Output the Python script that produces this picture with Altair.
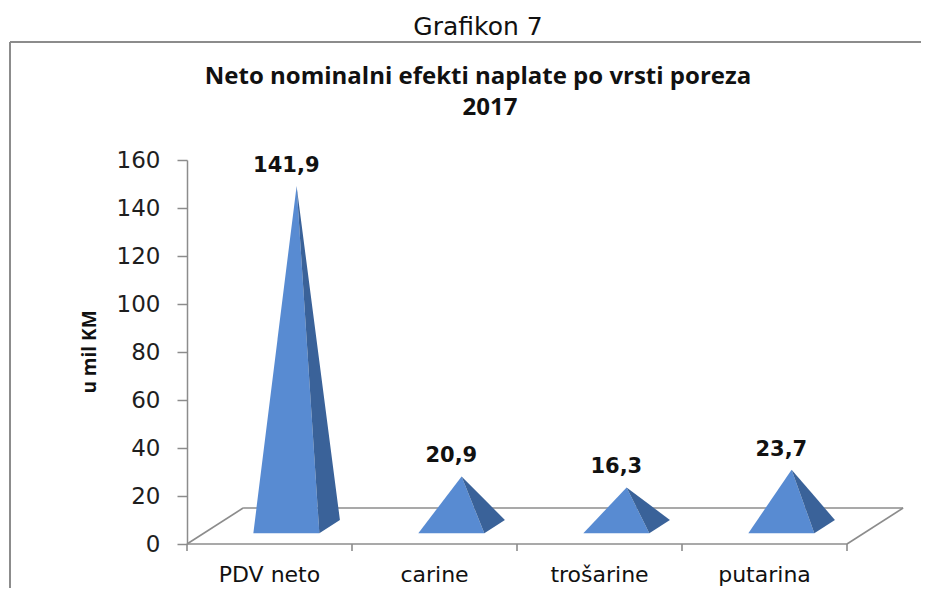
import altair as alt
import pandas as pd

# ---- data ----
categories = ["PDV neto", "carine", "trošarine", "putarina"]
values = [141.9, 20.9, 16.3, 23.7]
value_labels = ["141,9", "20,9", "16,3", "23,7"]
y_ticks = [0, 20, 40, 60, 80, 100, 120, 140, 160]

# ---- 3D-look geometry constants (in scale units) ----
HW = 0.20          # half width of pyramid base (category units)
DX, DY = 0.34, 15  # floor depth offset (x units, y units)
F_FRONT, F_BACK, F_MID = 0.30, 0.667, 0.483

faces = []
labels = []
for i, (c, v, lab) in enumerate(zip(categories, values, value_labels)):
    cx = i + 0.5
    yf, yb = F_FRONT * DY, F_BACK * DY
    flx = cx - HW + F_FRONT * DX
    frx = cx + HW + F_FRONT * DX
    brx = cx + HW + F_BACK * DX
    ax = cx + F_MID * DX
    ay = v + F_MID * DY
    fid = f"{i}-front"
    faces += [
        dict(face=fid, kind="front", x=flx, y=yf, y2=yf),
        dict(face=fid, kind="front", x=ax, y=ay, y2=yf),
        dict(face=fid, kind="front", x=frx, y=yf, y2=yf),
    ]
    sid = f"{i}-side"
    top_at_fr = ay + (yb - ay) * (frx - ax) / (brx - ax)
    faces += [
        dict(face=sid, kind="side", x=ax, y=ay, y2=ay),
        dict(face=sid, kind="side", x=frx, y=top_at_fr, y2=yf),
        dict(face=sid, kind="side", x=brx, y=yb, y2=yb),
    ]
    labels.append(dict(x=cx + F_FRONT * DX, y=ay, label=lab, cat=c, cx=cx))

faces_df = pd.DataFrame(faces)
labels_df = pd.DataFrame(labels)

floor_df = pd.DataFrame([
    dict(x=0, y=0, x2=4, y2=0),
    dict(x=DX, y=DY, x2=4 + DX, y2=DY),
    dict(x=0, y=0, x2=DX, y2=DY),
    dict(x=4, y=0, x2=4 + DX, y2=DY),
])
xticks_df = pd.DataFrame({"x": [0, 1, 2, 3, 4]})

W, H = 726, 384
xscale = alt.Scale(domain=[0, 4.4], nice=False, zero=False)
yscale = alt.Scale(domain=[0, 160], nice=False)
GRAY = "#8c8c8c"

yaxis = alt.Axis(values=y_ticks, tickSize=10, labelPadding=17, labelFontSize=23,
                 labelFont="DejaVu Sans", labelColor="#1e1e1e", domainColor=GRAY,
                 tickColor=GRAY, domainWidth=1.5, tickWidth=1.5, grid=False, title="")


def X(f):
    return alt.X(f, scale=xscale, axis=None)


def Y(f):
    return alt.Y(f, scale=yscale, axis=yaxis)


floor = alt.Chart(floor_df).mark_rule(color=GRAY, strokeWidth=1.6).encode(
    x=X("x:Q"), x2="x2:Q", y=Y("y:Q"), y2="y2:Q")

xticks = alt.Chart(xticks_df).mark_rule(color=GRAY, strokeWidth=1.6).encode(
    x=X("x:Q"), y=alt.value(H), y2=alt.value(H + 7))

pyr = alt.Chart(faces_df).mark_area(orient="vertical", interpolate="linear").encode(
    x=X("x:Q"), y=Y("y:Q"), y2="y2:Q", detail="face:N",
    color=alt.Color("kind:N", scale=alt.Scale(domain=["front", "side"],
                                              range=["#588bd2", "#3a6299"]), legend=None))

vlabels = alt.Chart(labels_df).mark_text(font="DejaVu Sans", fontSize=21, fontWeight="bold",
                                         color="#111", dy=-20, baseline="middle").encode(
    x=X("x:Q"), y=Y("y:Q"), text="label:N")

clabels = alt.Chart(labels_df).mark_text(font="DejaVu Sans", fontSize=22, color="#111",
                                         baseline="middle").encode(
    x=X("cx:Q"), y=alt.value(H + 31), text="cat:N")

grafikon = alt.Chart(pd.DataFrame({"t": ["Grafikon 7"]})).mark_text(
    font="DejaVu Sans", fontSize=25, color="#111", baseline="alphabetic").encode(
    x=alt.value(291), y=alt.value(-125), text="t:N")
title1 = alt.Chart(pd.DataFrame({"t": ["Neto nominalni  efekti naplate po vrsti poreza"]})).mark_text(
    font="Open Sans", fontSize=24, fontWeight="bold", color="#111", baseline="alphabetic").encode(
    x=alt.value(291), y=alt.value(-76), text="t:N")
title2 = alt.Chart(pd.DataFrame({"t": ["2017"]})).mark_text(
    font="Open Sans", fontSize=24, fontWeight="bold", color="#111", baseline="alphabetic").encode(
    x=alt.value(303), y=alt.value(-45), text="t:N")
ytitle = alt.Chart(pd.DataFrame({"t": ["u mil KM"]})).mark_text(
    font="Open Sans", fontSize=19, fontWeight="bold", color="#111", angle=270, baseline="middle").encode(
    x=alt.value(-97), y=alt.value(192), text="t:N")

frame_top = alt.Chart(pd.DataFrame({"a": [0]})).mark_rule(color=GRAY, strokeWidth=2).encode(
    x=alt.value(-177), x2=alt.value(760), y=alt.value(-118))
frame_left = alt.Chart(pd.DataFrame({"a": [0]})).mark_rule(color=GRAY, strokeWidth=2).encode(
    x=alt.value(-177), y=alt.value(-118), y2=alt.value(440))

chart = alt.layer(frame_top, frame_left, floor, xticks, pyr, vlabels, clabels,
                  grafikon, title1, title2, ytitle).properties(
    width=W, height=H,
    autosize=alt.AutoSizeParams(type="none"),
    padding={"left": 179, "top": 152, "right": 8, "bottom": 44},
).configure_view(stroke=None)

chart.save("out.html", embed_options={"renderer": "svg", "actions": False})
